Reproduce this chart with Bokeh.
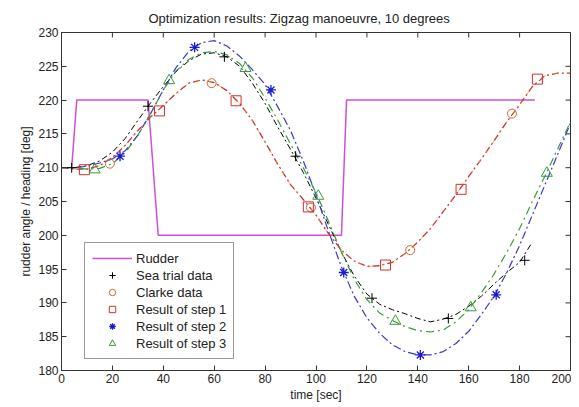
import math
from bokeh.plotting import figure
from bokeh.models import Legend, LegendItem, Range1d, FixedTicker
from bokeh.embed import file_html
from bokeh.resources import INLINE

# ---- data ----
rudder_t = [4, 6, 34, 38, 110, 112, 186]
rudder_y = [210, 220, 220, 200, 200, 220, 220]

curve_t = [0, 5, 10, 15, 20, 25, 30, 35, 40, 45, 50, 55, 60, 65, 70, 75, 80, 85, 90, 95,
           100, 105, 110, 115, 120, 125, 130, 135, 140, 145, 150, 155, 160, 165, 170, 175,
           180, 185, 190, 195, 200]

sea_line_t = curve_t[:38]
sea_line_y = [210, 210, 210.3, 211, 212.3, 214.3, 217, 219.6, 222, 224.2, 225.8, 226.8, 227,
              226.4, 225, 222.5, 219.5, 216, 212.7, 209.3, 205.5, 201.5, 197.5, 194, 191.3,
              189.8, 189, 188.4, 187.7, 187.2, 187.6, 188.3, 189.5, 191, 192.8, 194.5, 196, 199]

step1_y = [210, 209.8, 209.8, 210.3, 211.5, 213.3, 215.5, 217.5, 219.2, 221, 222.5, 223, 222.6,
           221.4, 219.5, 217, 213.8, 210.5, 207.5, 205.3, 203, 200.2, 197.8, 196.2, 195.4, 195.5,
           196, 197.3, 199, 201, 203.5, 206, 208.7, 211.3, 214, 216.8, 219.3, 222, 223.6, 224, 224]

step2_y = [210, 210, 210.2, 210.7, 211.3, 212.5, 214.8, 218, 221.5, 224.8, 227.2, 228.5, 228.8,
           228, 226.5, 224.5, 222.3, 219, 215.5, 211, 206, 200.5, 195.3, 191, 187.8, 185.5, 183.8,
           182.8, 182.3, 182.3, 182.8, 184, 185.8, 188.3, 191, 194.5, 198.5, 203, 207.5, 212, 216.6]

step3_y = [210, 210, 209.8, 209.9, 210.6, 212.2, 214.8, 218, 221.5, 224.3, 226, 227, 227.2, 226.7,
           225.4, 223.3, 220.3, 217, 213.5, 210, 206.3, 202, 197.5, 193.5, 190.5, 188.5, 187.4,
           186.5, 185.9, 185.7, 186, 187.2, 189, 191.5, 194.3, 197.5, 201, 205, 208.8, 212.8, 216.8]

sea_t = [4, 34, 64, 92, 122, 152, 182]
sea_y = [210, 219.1, 226.4, 211.7, 190.7, 187.7, 196.3]

clarke_t = [19, 59, 98, 137, 177]
clarke_y = [210.6, 222.5, 204.1, 197.8, 218]

sq_t = [9, 38.5, 68.6, 97, 127.3, 157, 187]
sq_y = [209.7, 218.4, 219.9, 204.2, 195.6, 206.8, 223.1]

star_t = [23, 52.3, 82.3, 110.9, 141, 170.8]
star_y = [211.7, 227.8, 221.5, 194.5, 182.3, 191.2]

tri_t = [13, 42.3, 72.3, 100.9, 131.2, 160.8, 190.7]
tri_y = [209.7, 222.9, 224.7, 205.8, 187.3, 189.3, 209.2]

x_ticks = [0, 20, 40, 60, 80, 100, 120, 140, 160, 180, 200]
y_ticks = [180, 185, 190, 195, 200, 205, 210, 215, 220, 225, 230]
x_min, x_max = 0, 200
y_min, y_max = 180, 230

FONT = "Liberation Sans"

p = figure(output_backend="svg", toolbar_location=None,
           frame_width=509, frame_height=338,
           min_border_left=61, min_border_top=32, min_border_right=1, min_border_bottom=29,
           x_range=Range1d(x_min, x_max), y_range=Range1d(y_min, y_max),
           x_axis_label="time [sec]", y_axis_label="rudder angle / heading [deg]",
           title="Optimization results: Zigzag manoeuvre, 10 degrees")

p.title.align = "left"
p.title.offset = 87
p.title.text_font = FONT
p.title.text_font_size = "13px"
p.title.text_font_style = "normal"
p.title.text_color = "#222222"
p.title.standoff = 13

p.xgrid.visible = False
p.ygrid.visible = False
p.outline_line_color = "#333333"
p.outline_line_width = 1
p.background_fill_color = "white"
p.border_fill_color = "white"

for ax, ticks in ((p.xaxis[0], x_ticks), (p.yaxis[0], y_ticks)):
    ax.ticker = FixedTicker(ticks=ticks)
    ax.major_tick_in = 5
    ax.major_tick_out = 0
    ax.minor_tick_line_color = None
    ax.axis_line_color = "#333333"
    ax.major_tick_line_color = "#333333"
    ax.major_label_text_font = FONT
    ax.major_label_text_font_size = "12px"
    ax.major_label_text_color = "#222222"
    ax.axis_label_text_font = FONT
    ax.axis_label_text_font_size = "12px"
    ax.axis_label_text_font_style = "normal"
    ax.axis_label_text_color = "#222222"
    ax.major_label_standoff = 3
    ax.axis_label_standoff = 2

# inward tick marks on the top and right edges (clipped to the frame)
p.scatter(x_ticks, [y_max] * len(x_ticks), marker="dash", angle=math.pi / 2, size=10,
          line_color="#333333", line_width=1)
p.scatter([x_max] * len(y_ticks), y_ticks, marker="dash", size=10,
          line_color="#333333", line_width=1)

# lines
r_rudder = p.line(rudder_t, rudder_y, line_color="#d24fd2", line_width=1.5)
p.line(sea_line_t, sea_line_y, line_color="black", line_width=1, line_dash="6 3 2 3")
p.line(curve_t, step1_y, line_color="#cc3333", line_width=1.3, line_dash="7 3 2 3")
p.line(curve_t, step1_y, line_color="#e0a040", line_width=1, line_dash="3 9", line_alpha=0.7)
p.line(curve_t, step2_y, line_color="#3a3ac8", line_width=1.2, line_dash="8 3 2 3")
p.line(curve_t, step3_y, line_color="#3c9a3c", line_width=1.2, line_dash="8 4 2 4")

# markers
r_sea = p.scatter(sea_t, sea_y, marker="cross", size=10, line_color="black", line_width=1)
r_clarke = p.scatter(clarke_t, clarke_y, marker="circle", size=9, line_color="#c86a30",
                     fill_color=None, line_width=1)
r_sq = p.scatter(sq_t, sq_y, marker="square", size=10, line_color="#d03030",
                 fill_color=None, line_width=1)
r_star = p.scatter(star_t, star_y, marker="asterisk", size=10, line_color="#1a1ad0",
                   line_width=1.3)
r_tri = p.scatter(tri_t, tri_y, marker="triangle", size=11, line_color="#3a9a3a",
                  fill_color=None, line_width=1)

legend = Legend(items=[
    LegendItem(label="Rudder", renderers=[r_rudder]),
    LegendItem(label="Sea trial data", renderers=[r_sea]),
    LegendItem(label="Clarke data", renderers=[r_clarke]),
    LegendItem(label="Result of step 1", renderers=[r_sq]),
    LegendItem(label="Result of step 2", renderers=[r_star]),
    LegendItem(label="Result of step 3", renderers=[r_tri]),
], location=(23, 11))
legend.margin = 0
legend.padding = 7
legend.spacing = 1
legend.label_height = 16
legend.glyph_height = 16
legend.glyph_width = 40
legend.label_standoff = 4
legend.label_text_font = FONT
legend.label_text_font_size = "13px"
legend.label_text_color = "#222222"
legend.border_line_color = "#333333"
legend.border_line_width = 1
legend.background_fill_color = "white"
legend.background_fill_alpha = 1
p.add_layout(legend, "center")

open("out.html", "w").write(file_html(p, INLINE))
